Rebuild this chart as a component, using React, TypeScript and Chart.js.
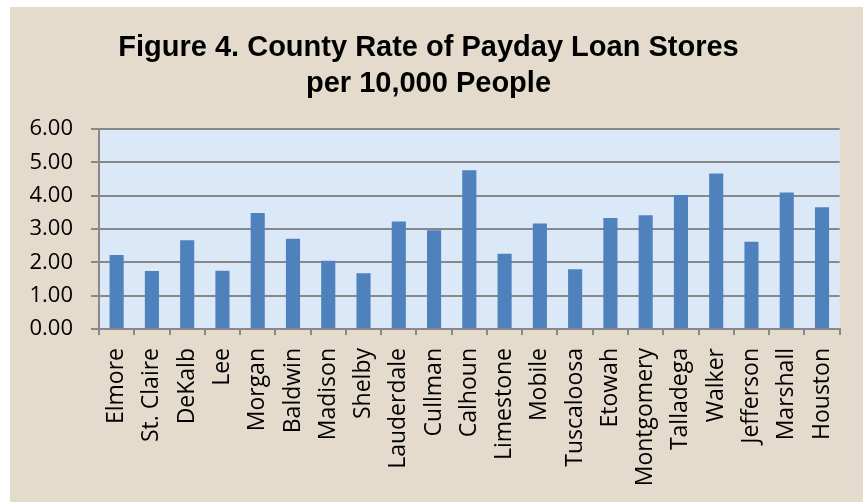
import React, { useEffect, useRef } from "react";
import { Chart, registerables } from "chart.js";

Chart.register(...registerables);

const counties = [
  "Elmore", "St. Claire", "DeKalb", "Lee", "Morgan", "Baldwin", "Madison",
  "Shelby", "Lauderdale", "Cullman", "Calhoun", "Limestone", "Mobile",
  "Tuscaloosa", "Etowah", "Montgomery", "Talladega", "Walker", "Jefferson",
  "Marshall", "Houston",
];

const ratePer10k = [
  2.22, 1.74, 2.66, 1.75, 3.48, 2.71, 2.05, 1.67, 3.22, 2.96, 4.76,
  2.26, 3.16, 1.79, 3.33, 3.41, 4.02, 4.66, 2.62, 4.09, 3.65,
];

const titleLines = ["Figure 4. County Rate of Payday Loan Stores", "per 10,000 People"];

const yMin = 0;
const yMax = 6;
const yStep = 1;

const bgPlugin = {
  id: "bgPlugin",
  beforeDraw(chart: any) {
    const { ctx, chartArea } = chart;
    ctx.save();
    ctx.fillStyle = "#e4dbcc";
    ctx.fillRect(0, 0, chart.width, chart.height);
    ctx.fillStyle = "#dbe8f8";
    ctx.fillRect(chartArea.left, chartArea.top, chartArea.right - chartArea.left, chartArea.bottom - chartArea.top);
    ctx.restore();
  },
};

export default function App() {
  const ref = useRef<HTMLCanvasElement | null>(null);

  useEffect(() => {
    if (!ref.current) return;
    const chart = new Chart(ref.current, {
      type: "bar",
      data: {
        labels: counties,
        datasets: [
          {
            data: ratePer10k,
            backgroundColor: "#4f81bd",
            categoryPercentage: 0.4,
            barPercentage: 1,
          },
        ],
      },
      options: {
        animation: false,
        responsive: false,
        maintainAspectRatio: false,
        layout: { padding: { left: 0, right: 16, top: 0, bottom: 0 } },
        plugins: {
          legend: { display: false },
          tooltip: { enabled: false },
          title: {
            display: true,
            text: titleLines,
            color: "#000000",
            font: { family: "'Liberation Sans', Arial, sans-serif", size: 29, weight: "bold", lineHeight: 1.24 },
            padding: { top: 23, bottom: 27 },
          },
        },
        scales: {
          x: {
            grid: {
              display: true,
              drawOnChartArea: false,
              drawTicks: true,
              tickLength: 6,
              color: "#888888",
              lineWidth: 2,
              offset: true,
            },
            border: { display: true, color: "#888888", width: 2 },
            ticks: {
              autoSkip: false,
              minRotation: 90,
              maxRotation: 90,
              padding: 13,
              color: "#000000",
              font: { family: "'Open Sans', sans-serif", size: 23 },
            },
            afterFit(scale: any) {
              scale.height = 173;
            },
          },
          y: {
            min: yMin,
            max: yMax,
            grid: {
              color: "#888888",
              lineWidth: 2,
              drawTicks: true,
              tickLength: 8,
            },
            border: { display: true, color: "#888888", width: 2 },
            ticks: {
              stepSize: yStep,
              padding: 18,
              color: "#000000",
              font: { family: "'Open Sans', sans-serif", size: 22 },
              callback: (v: any) => Number(v).toFixed(2),
            },
            afterFit(scale: any) {
              scale.width = 89;
            },
          },
        },
      },
      plugins: [bgPlugin],
    });
    return () => chart.destroy();
  }, []);

  return (
    <div style={{ position: "absolute", left: 10, top: 7, width: 853, height: 495 }}>
      <canvas ref={ref} width={853} height={495} style={{ display: "block" }} />
    </div>
  );
}
